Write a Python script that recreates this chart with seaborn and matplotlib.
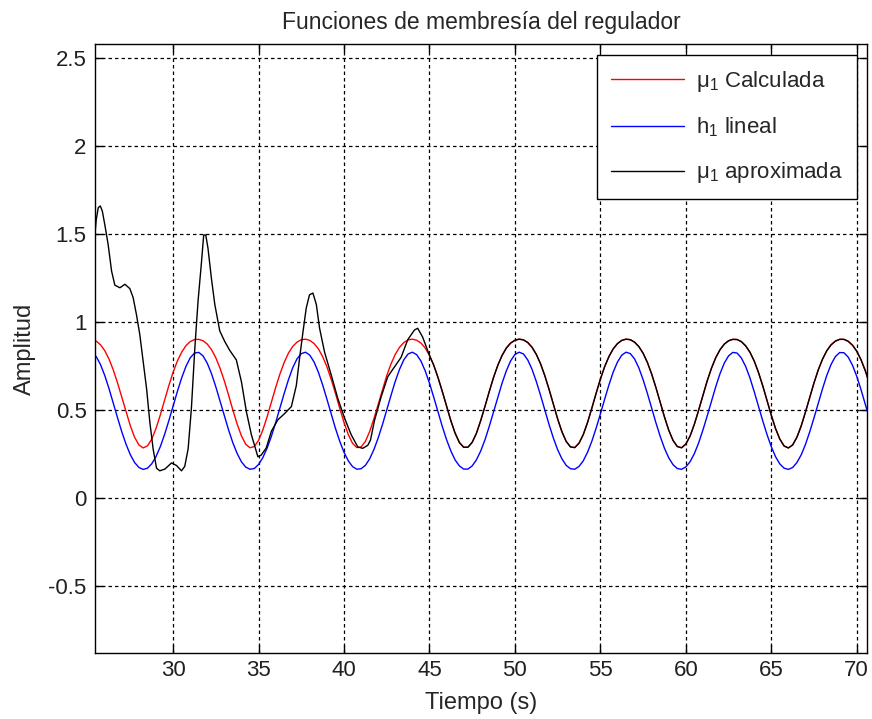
import numpy as np
import pandas as pd
import matplotlib
matplotlib.use("Agg")
import matplotlib.pyplot as plt
import seaborn as sns

# ---------------- data ----------------
t = np.arange(25.0, 71.001, 0.25)  # sampling grid of the smooth curves (25.0 ... 71.0)

mu_calc = [0.902, 0.902, 0.892, 0.871, 0.838, 0.790, 0.728, 0.654, 0.572, 0.488,
           0.410, 0.345, 0.302, 0.285, 0.297, 0.335, 0.396, 0.472, 0.556, 0.639,
           0.715, 0.779, 0.829, 0.866, 0.889, 0.901, 0.902, 0.894, 0.875, 0.843,
           0.797, 0.737, 0.665, 0.584, 0.499, 0.420, 0.353, 0.306, 0.286, 0.293,
           0.328, 0.387, 0.462, 0.545, 0.628, 0.705, 0.771, 0.824, 0.862, 0.886,
           0.900, 0.903, 0.896, 0.878, 0.848, 0.804, 0.746, 0.675, 0.595, 0.510,
           0.430, 0.361, 0.311, 0.287, 0.291, 0.322, 0.378, 0.451, 0.533, 0.617,
           0.696, 0.763, 0.817, 0.857, 0.884, 0.899, 0.903, 0.897, 0.881, 0.853,
           0.811, 0.755, 0.685, 0.606, 0.522, 0.440, 0.369, 0.316, 0.289, 0.289,
           0.317, 0.369, 0.441, 0.522, 0.606, 0.686, 0.755, 0.811, 0.853, 0.881,
           0.897, 0.903, 0.899, 0.884, 0.857, 0.817, 0.763, 0.695, 0.617, 0.533,
           0.450, 0.377, 0.322, 0.291, 0.287, 0.312, 0.361, 0.430, 0.511, 0.595,
           0.676, 0.747, 0.804, 0.848, 0.878, 0.896, 0.903, 0.900, 0.886, 0.861,
           0.823, 0.771, 0.705, 0.628, 0.544, 0.461, 0.386, 0.328, 0.293, 0.286,
           0.307, 0.353, 0.420, 0.500, 0.584, 0.666, 0.738, 0.798, 0.843, 0.875,
           0.894, 0.902, 0.901, 0.889, 0.865, 0.829, 0.779, 0.714, 0.638, 0.555,
           0.471, 0.395, 0.335, 0.296, 0.285, 0.302, 0.346, 0.410, 0.489, 0.573,
           0.655, 0.729, 0.790, 0.838, 0.871, 0.892, 0.902, 0.902, 0.891, 0.869,
           0.835, 0.786, 0.724, 0.649, 0.566]

h_lin = [0.826, 0.826, 0.804, 0.759, 0.697, 0.622, 0.539, 0.456, 0.376, 0.305,
         0.246, 0.202, 0.174, 0.163, 0.170, 0.195, 0.236, 0.292, 0.361, 0.440,
         0.523, 0.606, 0.683, 0.748, 0.797, 0.824, 0.828, 0.808, 0.766, 0.706,
         0.632, 0.550, 0.467, 0.386, 0.313, 0.253, 0.206, 0.176, 0.164, 0.168,
         0.191, 0.230, 0.284, 0.351, 0.429, 0.512, 0.595, 0.673, 0.741, 0.791,
         0.821, 0.829, 0.812, 0.773, 0.715, 0.643, 0.562, 0.478, 0.396, 0.323,
         0.260, 0.212, 0.179, 0.164, 0.167, 0.186, 0.223, 0.276, 0.342, 0.418,
         0.501, 0.584, 0.664, 0.732, 0.786, 0.819, 0.829, 0.815, 0.779, 0.723,
         0.653, 0.573, 0.489, 0.407, 0.332, 0.268, 0.217, 0.183, 0.165, 0.165,
         0.183, 0.218, 0.268, 0.332, 0.408, 0.490, 0.573, 0.654, 0.724, 0.780,
         0.816, 0.829, 0.819, 0.785, 0.732, 0.663, 0.584, 0.500, 0.417, 0.341,
         0.275, 0.223, 0.186, 0.167, 0.164, 0.180, 0.212, 0.261, 0.323, 0.397,
         0.478, 0.562, 0.643, 0.716, 0.773, 0.812, 0.829, 0.821, 0.791, 0.740,
         0.673, 0.595, 0.511, 0.428, 0.351, 0.283, 0.229, 0.190, 0.168, 0.164,
         0.177, 0.207, 0.253, 0.314, 0.387, 0.467, 0.551, 0.633, 0.707, 0.767,
         0.808, 0.828, 0.824, 0.796, 0.748, 0.683, 0.605, 0.522, 0.439, 0.361,
         0.292, 0.235, 0.194, 0.170, 0.163, 0.174, 0.202, 0.246, 0.305, 0.377,
         0.456, 0.540, 0.622, 0.698, 0.760, 0.804, 0.827, 0.826, 0.801, 0.755,
         0.692, 0.616, 0.533, 0.450, 0.370]

# approximated membership: transient part (after ~45 s it follows the computed one)
aprox_t_start = [25.40, 25.50, 25.62, 25.74, 25.86, 26.01, 26.20, 26.40, 26.59, 26.89,
                 27.18, 27.47, 27.66, 27.86, 28.05, 28.25, 28.45, 28.64, 28.83, 29.03,
                 29.22, 29.52, 29.91, 30.20, 30.49, 30.68, 30.88, 31.07, 31.27, 31.46,
                 31.66, 31.79, 31.91, 32.04, 32.24, 32.44, 32.73, 33.02, 33.31, 33.70,
                 34.00, 34.29, 34.58, 34.81, 34.96, 35.16, 35.45, 35.75, 36.13, 36.52,
                 36.92, 37.21, 37.40, 37.60, 37.79, 37.98, 38.18, 38.38, 38.57, 38.86,
                 39.25, 39.64, 40.03, 40.42, 40.81, 41.10, 41.39, 41.55, 41.78, 42.17,
                 42.56, 42.95, 43.34, 43.73, 44.12, 44.31, 44.60]
aprox_y_start = [1.47, 1.58, 1.65, 1.66, 1.63, 1.55, 1.44, 1.29, 1.21, 1.195,
                 1.215, 1.19, 1.14, 1.04, 0.93, 0.775, 0.62, 0.43, 0.28, 0.17,
                 0.155, 0.165, 0.20, 0.185, 0.155, 0.18, 0.28, 0.51, 0.85, 1.12,
                 1.34, 1.495, 1.495, 1.42, 1.25, 1.10, 0.95, 0.89, 0.84, 0.785,
                 0.66, 0.49, 0.36, 0.285, 0.235, 0.245, 0.285, 0.38, 0.445, 0.48,
                 0.52, 0.64, 0.795, 0.945, 1.08, 1.155, 1.165, 1.10, 0.965, 0.83,
                 0.70, 0.565, 0.455, 0.36, 0.29, 0.283, 0.30, 0.33, 0.44, 0.575,
                 0.69, 0.745, 0.80, 0.90, 0.955, 0.965, 0.915]
follow_from = 80  # index of t = 45.0 in the grid

labels = [r"$\mathrm{\mu_1}$ Calculada", r"$\mathrm{h_1}$ lineal", r"$\mathrm{\mu_1}$ aproximada"]
colors = ["#ff0000", "#0000ff", "#000000"]

xticks = [30, 35, 40, 45, 50, 55, 60, 65, 70]
xticklabels = ["30", "35", "40", "45", "50", "55", "60", "65", "70"]
yticks = [-0.5, 0, 0.5, 1, 1.5, 2, 2.5]
yticklabels = ["-0.5", "0", "0.5", "1", "1.5", "2", "2.5"]

# ---------------- build long table ----------------
aprox_t = list(aprox_t_start) + list(t[follow_from:])
aprox_y = list(aprox_y_start) + list(mu_calc[follow_from:])

df = pd.concat([
    pd.DataFrame({"t": t, "v": mu_calc, "serie": labels[0]}),
    pd.DataFrame({"t": t, "v": h_lin, "serie": labels[1]}),
    pd.DataFrame({"t": aprox_t, "v": aprox_y, "serie": labels[2]}),
], ignore_index=True)

# ---------------- style ----------------
sns.set_theme(style="white")
plt.rcParams["font.family"] = ["Liberation Sans", "DejaVu Sans"]
plt.rcParams["mathtext.fontset"] = "custom"
plt.rcParams["mathtext.rm"] = "Liberation Sans"
plt.rcParams["mathtext.it"] = "Liberation Sans"

fig = plt.figure(figsize=(8.72, 7.19), dpi=100)
ax = fig.add_axes([95 / 872, 1 - 653 / 719, (867 - 95) / 872, (653 - 44) / 719])

sns.lineplot(data=df, x="t", y="v", hue="serie", hue_order=labels,
             palette=colors, estimator=None, sort=False, linewidth=1.0, ax=ax)

ax.set_xlim(25.43, 70.6)
ax.set_ylim(-0.88, 2.58)
ax.set_xticks(xticks)
ax.set_xticklabels(xticklabels)
ax.set_yticks(yticks)
ax.set_yticklabels(yticklabels)

ax.grid(True, color="black", linestyle=(0, (2.8, 2.4)), linewidth=0.9)
for s in ax.spines.values():
    s.set_visible(True)
    s.set_color("black")
    s.set_linewidth(1.0)
ax.tick_params(direction="in", length=6, width=1.0, colors="black",
               labelsize=16, top=True, right=True, bottom=True, left=True,
               labeltop=False, labelright=False)
ax.tick_params(axis="x", pad=5)
ax.tick_params(axis="y", pad=6)
for lab in ax.get_xticklabels() + ax.get_yticklabels():
    lab.set_color("#202020")

ax.set_xlabel("Tiempo (s)", fontsize=17, labelpad=8)
ax.set_ylabel("Amplitud", fontsize=17, labelpad=9)
ax.set_title("Funciones de membresía del regulador", fontsize=16.5, pad=11)

leg = ax.legend(loc="upper right", bbox_to_anchor=(0.987, 0.982), fontsize=16,
                frameon=True, fancybox=False, framealpha=1, edgecolor="black",
                handlelength=3.3, handletextpad=0.55, labelspacing=0.97,
                borderpad=0.62, borderaxespad=0)
leg.get_frame().set_linewidth(1.0)
for line in leg.get_lines():
    line.set_linewidth(1.0)

fig.savefig("out.png", dpi=100, facecolor="white")
